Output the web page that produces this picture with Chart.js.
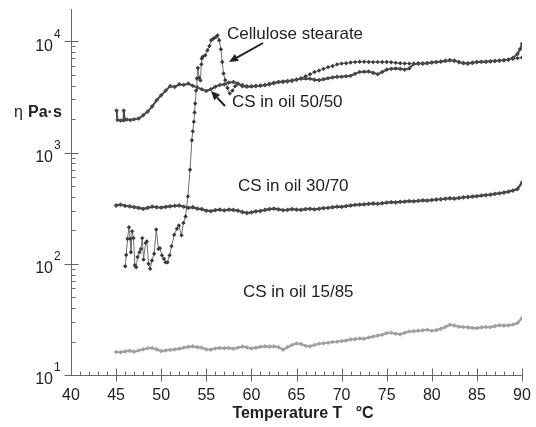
<!DOCTYPE html>
<html>
<head>
<meta charset="utf-8">
<script src="https://cdn.jsdelivr.net/npm/chart.js@4.4.0/dist/chart.umd.min.js"></script>
<style>
  html, body { margin: 0; padding: 0; background: #fff; }
  #wrap { width: 536px; height: 427px; }
</style>
</head>
<body>
<div id="wrap"><canvas id="viscosity" width="536" height="427"></canvas></div>
<script>
const xTicks = [40, 45, 50, 55, 60, 65, 70, 75, 80, 85, 90];
const yTickExps = [1, 2, 3, 4];

// temperature grid used by the two oil mixtures with regular sampling
const tempGrid = [
  45, 45.5, 46, 46.5, 47, 47.5, 48, 48.5, 49, 49.5,
  50, 50.5, 51, 51.5, 52, 52.5, 53, 53.5, 54, 54.5,
  55, 55.5, 56, 56.5, 57, 57.5, 58, 58.5, 59, 59.5,
  60, 60.5, 61, 61.5, 62, 62.5, 63, 63.5, 64, 64.5,
  65, 65.5, 66, 66.5, 67, 67.5, 68, 68.5, 69, 69.5,
  70, 70.5, 71, 71.5, 72, 72.5, 73, 73.5, 74, 74.5,
  75, 75.5, 76, 76.5, 77, 77.5, 78, 78.5, 79, 79.5,
  80, 80.5, 81, 81.5, 82, 82.5, 83, 83.5, 84, 84.5,
  85, 85.5, 86, 86.5, 87, 87.5, 88, 88.5, 89, 89.5,
  90
];

const eta30 = [
  334, 340, 332, 328, 323, 318, 312, 318, 326, 322,
  320, 324, 328, 332, 334, 326, 318, 322, 313, 310,
  300, 297, 303, 306, 302, 306, 305, 300, 292, 286,
  290, 296, 298, 305, 310, 313, 308, 303, 305, 310,
  306, 305, 310, 312, 308, 312, 316, 318, 322, 326,
  325, 330, 334, 338, 340, 342, 345, 348, 346, 350,
  355, 358, 356, 360, 362, 366, 364, 368, 372, 370,
  374, 378, 380, 384, 388, 385, 390, 395, 398, 402,
  405, 410, 414, 418, 425, 430, 436, 445, 455, 470,
  535
];

const eta15 = [
  16.1, 16.0, 16.3, 16.5, 16.2, 16.6, 17.0, 17.4, 17.5, 17.0,
  16.4, 16.6, 16.8, 17.0, 17.2, 17.6, 17.9, 18.1, 17.8, 17.6,
  17.0, 16.9, 17.3, 17.5, 17.4, 17.5, 17.2, 17.6, 18.0, 17.7,
  17.3, 17.6, 17.9, 18.1, 18.0, 18.1, 17.8, 16.9, 17.8, 18.6,
  19.2, 19.0, 18.3, 18.1, 18.6, 19.1, 19.3, 19.5, 19.8, 19.9,
  20.2, 20.4, 20.9, 21.0, 21.3, 21.2, 21.7, 22.2, 22.6, 23.0,
  23.8, 24.0, 23.5, 23.2, 24.0, 24.6, 24.8, 25.0, 25.2, 25.5,
  25.0, 25.3, 26.0, 27.0, 28.3, 27.8, 27.2, 27.0, 26.8, 26.5,
  26.4, 26.8, 27.0, 26.9, 27.5, 28.0, 27.8, 28.0, 28.4, 29.3,
  32.5
];

const temp50 = [
  45.05, 45.15, 45.5, 45.8, 45.85, 45.95, 46.2, 46.6,
  47, 47.5, 48, 48.5, 49, 49.5,
  50, 50.5, 51, 51.5, 52, 52.5, 53, 53.5, 54, 54.5,
  55, 55.5, 56, 56.5, 57, 57.5, 58, 58.5, 59, 59.5,
  60, 60.5, 61, 61.5, 62, 62.5, 63, 63.5, 64, 64.5,
  65, 65.5, 66, 66.5, 67, 67.5, 68, 68.5, 69, 69.5,
  70, 70.5, 71, 71.5, 72, 72.5, 73, 73.5, 74, 74.5,
  75, 75.5, 76, 76.5, 77, 77.5, 78, 78.5, 79, 79.5,
  80, 80.5, 81, 81.5, 82, 82.5, 83, 83.5, 84, 84.5,
  85, 85.5, 86, 86.5, 87, 87.5, 88, 88.5, 89, 89.5,
  89.8, 90
];

const eta50 = [
  2380, 1960, 1940, 1950, 2380, 1970, 1980, 1960,
  1990, 2020, 2160, 2330, 2600, 2950,
  3270, 3600, 3950, 3890, 4100, 4050, 4170, 3980, 3850, 3700,
  3570, 3700, 3900, 4050, 4100, 4250, 4300, 4170, 3950, 3900,
  3920, 3950, 3980, 4030, 4100, 4200, 4300, 4350, 4400, 4450,
  4530, 4600, 4630, 4600, 4500, 4470, 4550, 4650, 4720, 4790,
  4800, 4850, 4900, 5100, 5300, 5320, 5350, 5200, 5050, 5300,
  5560, 5650, 5690, 5650, 5560, 5700, 6250, 6300, 6300, 6350,
  6450, 6500, 6550, 6650, 6750, 6700, 6500, 6350, 6300, 6400,
  6500, 6550, 6550, 6600, 6650, 6700, 6750, 6850, 7100, 7700,
  8500, 9500
];

const tempCS = [
  46.01, 46.12, 46.27, 46.42, 46.56, 46.64, 46.78, 46.93, 47.08, 47.23,
  47.38, 47.6, 47.75, 47.9, 48.04, 48.27, 48.41, 48.6, 48.78, 48.97,
  49.22, 49.45, 49.7, 49.86, 50.08, 50.3, 50.48, 50.7, 50.93, 51.15,
  51.44, 51.74, 51.96, 52.25, 52.47, 52.7, 52.96, 53.2, 53.4, 53.5,
  53.62, 53.7, 53.77, 53.87, 53.96, 54.07, 54.2, 54.35, 54.45, 54.5,
  54.6, 54.88, 55.13, 55.35, 55.54, 55.8, 56.06, 56.24, 56.43, 56.62,
  56.77, 56.91, 57.1, 57.35, 57.6, 57.9, 58.2, 58.5, 59, 59.5,
  60, 60.5, 61, 61.5, 62, 62.5, 63, 63.5, 64, 64.5,
  65, 65.5, 66, 66.5, 67, 67.5, 68, 68.5, 69, 69.5,
  70, 70.5, 71, 71.5, 72, 72.5, 73, 73.5, 74, 74.5,
  75, 75.5, 76, 76.5, 77, 77.5, 78, 78.5, 79, 79.5,
  80, 80.5, 81, 81.5, 82, 82.5, 83, 83.5, 84, 84.5,
  85, 85.5, 86, 86.5, 87, 87.5, 88, 88.5, 89, 89.5, 90
];

const etaCS = [
  95, 120, 168, 213, 168, 127, 196, 170, 97, 93,
  115, 127, 136, 170, 109, 154, 159, 100, 90, 107,
  123, 203, 136, 138, 119, 111, 103, 103, 119, 144,
  182, 206, 221, 180, 233, 266, 403, 700, 1290, 1550,
  1890, 2290, 2760, 3600, 4620, 5750, 4700, 4450, 6200, 7000,
  7240, 7480, 8300, 9070, 10200, 10600, 10900, 11300, 10200, 8470,
  6520, 5130, 4470, 3800, 3400, 3600, 3950, 4150, 4050, 3950,
  3950, 3980, 4000, 4050, 4150, 4250, 4300, 4300, 4350, 4400,
  4500, 4650, 4850, 5050, 5300, 5450, 5650, 5850, 6000, 6200,
  6300, 6350, 6450, 6500, 6550, 6550, 6520, 6500, 6500, 6510,
  6520, 6480, 6400, 6350, 6310, 6300, 6300, 6310, 6320, 6380,
  6450, 6520, 6600, 6680, 6750, 6650, 6500, 6400, 6350, 6420,
  6500, 6530, 6550, 6600, 6650, 6700, 6750, 6820, 6950, 7050, 7130
];

const FONT = '"Liberation Sans", Arial, sans-serif';

const labels = [
  { text: 'Cellulose stearate', x: 227, y: 34, arrow: [263, 43, 229, 62] },
  { text: 'CS in oil 50/50', x: 232, y: 102, arrow: [225, 106, 211, 91] },
  { text: 'CS in oil 30/70', x: 238, y: 186 },
  { text: 'CS in oil 15/85', x: 243, y: 292 }
];

function pairs(xs, ys) {
  return xs.map((t, i) => ({ x: t, y: ys[i] }));
}

function drawArrow(ctx, x1, y1, x2, y2) {
  const ang = Math.atan2(y2 - y1, x2 - x1);
  const len = 9, half = 4;
  const bx = x2 - len * Math.cos(ang), by = y2 - len * Math.sin(ang);
  ctx.beginPath();
  ctx.moveTo(x1, y1);
  ctx.lineTo(bx, by);
  ctx.stroke();
  ctx.beginPath();
  ctx.moveTo(x2, y2);
  ctx.lineTo(bx + half * Math.sin(ang), by - half * Math.cos(ang));
  ctx.lineTo(bx - half * Math.sin(ang), by + half * Math.cos(ang));
  ctx.closePath();
  ctx.fill();
}

const axisPlugin = {
  id: 'axisPlugin',
  beforeDatasetsDraw(chart) {
    const ctx = chart.ctx, a = chart.chartArea;
    const xs = chart.scales.x, ys = chart.scales.y;
    const left = Math.round(a.left) + 0.5, bottom = Math.round(a.bottom) + 0.5;
    ctx.save();
    ctx.strokeStyle = '#666';
    ctx.lineWidth = 1;
    ctx.beginPath();
    ctx.moveTo(left, a.top);
    ctx.lineTo(left, bottom);
    ctx.lineTo(Math.round(a.right) + 0.5, bottom);
    for (let t = 41; t <= 90; t++) {
      const px = Math.round(xs.getPixelForValue(t)) + 0.5;
      if (t % 5 === 0) {
        ctx.moveTo(px, bottom - 7);
        ctx.lineTo(px, bottom + 6);
      } else {
        ctx.moveTo(px, bottom - 4);
        ctx.lineTo(px, bottom);
      }
    }
    yTickExps.forEach(e => {
      for (let m = 1; m <= 9; m++) {
        const v = m * Math.pow(10, e);
        if (v > ys.max) break;
        const py = Math.round(ys.getPixelForValue(v)) + 0.5;
        if (m === 1) {
          ctx.moveTo(left - 7, py);
          ctx.lineTo(left + 7, py);
        } else {
          ctx.moveTo(left, py);
          ctx.lineTo(left + 4, py);
        }
      }
    });
    ctx.stroke();
    ctx.restore();
  },
  afterDraw(chart) {
    const ctx = chart.ctx;
    const xs = chart.scales.x, ys = chart.scales.y;
    ctx.save();
    ctx.fillStyle = '#222';
    ctx.strokeStyle = '#222';

    ctx.font = '16px ' + FONT;
    ctx.textAlign = 'center';
    ctx.textBaseline = 'middle';
    xTicks.forEach(t => {
      ctx.fillText(String(t), xs.getPixelForValue(t), 396);
    });

    yTickExps.forEach(e => {
      const py = ys.getPixelForValue(Math.pow(10, e));
      ctx.font = '16px ' + FONT;
      ctx.textAlign = 'right';
      ctx.fillText('10', 53, py + 5);
      ctx.font = '12px ' + FONT;
      ctx.textAlign = 'left';
      ctx.fillText(String(e), 54, py - 7);
    });

    ctx.font = 'bold 16px ' + FONT;
    ctx.textAlign = 'center';
    ctx.fillText('Temperature T   \u00b0C', 303, 414);

    ctx.textAlign = 'left';
    ctx.font = '16px ' + FONT;
    ctx.fillText('\u03b7', 14, 113);
    ctx.font = 'bold 16px ' + FONT;
    ctx.fillText('Pa\u00b7s', 28, 113);

    ctx.font = '17px ' + FONT;
    ctx.lineWidth = 2;
    labels.forEach(l => {
      ctx.fillText(l.text, l.x, l.y);
      if (l.arrow) drawArrow(ctx, l.arrow[0], l.arrow[1], l.arrow[2], l.arrow[3]);
    });
    ctx.restore();
  }
};

const config = {
  type: 'line',
  data: {
    datasets: [
      {
        label: 'CS in oil 15/85',
        data: pairs(tempGrid, eta15),
        borderColor: '#a0a0a0',
        backgroundColor: '#a0a0a0',
        borderWidth: 2.2,
        pointStyle: 'rectRot',
        pointRadius: 2.3,
        pointBorderWidth: 0
      },
      {
        label: 'CS in oil 30/70',
        data: pairs(tempGrid, eta30),
        borderColor: '#484848',
        backgroundColor: '#484848',
        borderWidth: 2.2,
        pointStyle: 'rectRot',
        pointRadius: 2.4,
        pointBorderWidth: 0
      },
      {
        label: 'CS in oil 50/50',
        data: pairs(temp50, eta50),
        borderColor: '#484848',
        backgroundColor: '#484848',
        borderWidth: 2,
        pointStyle: 'rectRot',
        pointRadius: 2.3,
        pointBorderWidth: 0
      },
      {
        label: 'Cellulose stearate',
        data: pairs(tempCS, etaCS),
        borderColor: '#707070',
        backgroundColor: '#3a3a3a',
        borderWidth: 1,
        pointStyle: 'rectRot',
        pointRadius: 2.2,
        pointBorderWidth: 0
      }
    ]
  },
  options: {
    responsive: false,
    animation: false,
    layout: {
      padding: { left: 71, right: 14, top: 9, bottom: 52 }
    },
    plugins: {
      legend: { display: false },
      tooltip: { enabled: false }
    },
    scales: {
      x: { type: 'linear', min: 40, max: 90, display: false },
      y: { type: 'logarithmic', min: 10, max: 19500, display: false }
    }
  },
  plugins: [axisPlugin]
};

var viscosityChart = new Chart(document.getElementById('viscosity'), config);
</script>
</body>
</html>
